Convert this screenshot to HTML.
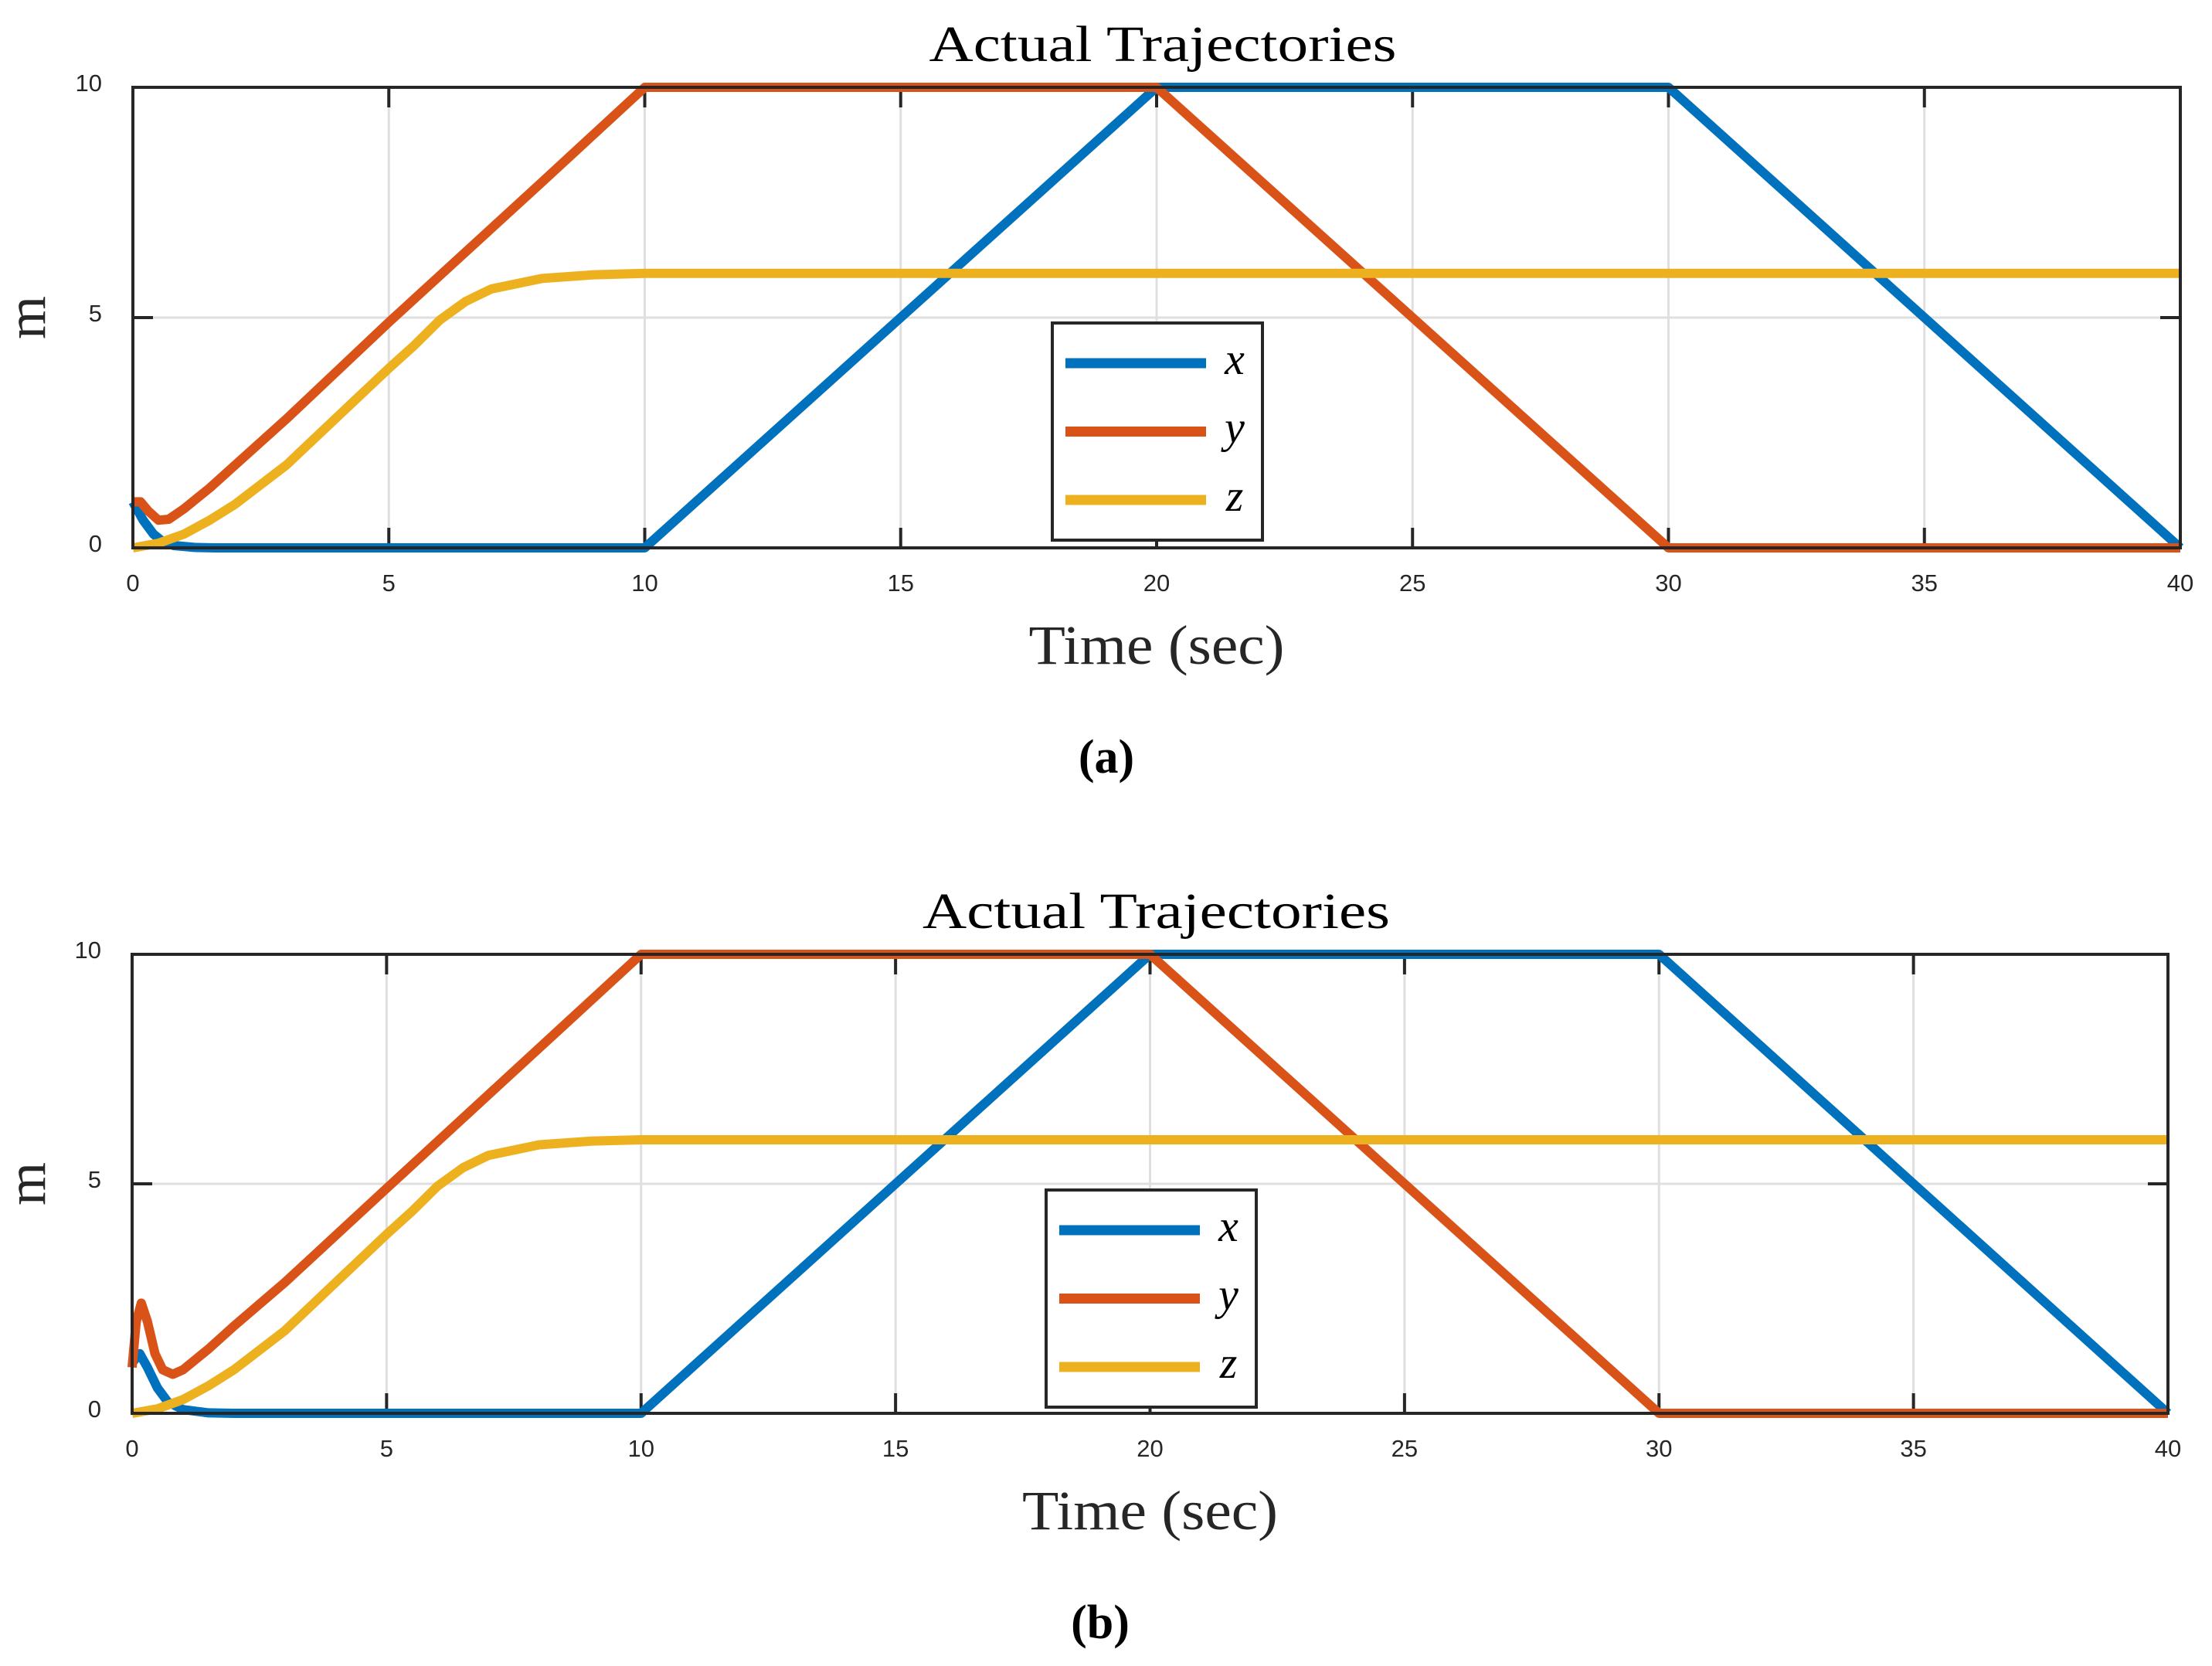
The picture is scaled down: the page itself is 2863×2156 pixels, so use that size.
<!DOCTYPE html>
<html><head><meta charset="utf-8"><style>
html,body{margin:0;padding:0;background:#fff;}
svg{display:block;}
</style></head><body>
<svg id="fig" width="2863" height="2156" viewBox="0 0 2863 2156" xmlns="http://www.w3.org/2000/svg">
<rect width="2863" height="2156" fill="#fff"/>
</svg>
<script>
const xTicks=[0,5,10,15,20,25,30,35,40];
const yTicks=[0,5,10];
const seriesNames=["x","y","z"];
const seriesColors=["#0072BD","#D95319","#EDB120"];
// panel (a)
const aXt=[0,0.2,0.4,0.6,0.8,1.2,1.6,10,20,30,40];
const aXv=[1.0,0.6,0.3,0.12,0.05,0.01,0,0,10,10,0];
const aYt=[0,0.15,0.3,0.5,0.7,1,1.5,2,3,5,8,10,20,30,40];
const aYv=[1.0,1.0,0.8,0.6,0.62,0.85,1.3,1.8,2.8,4.9,7.95,10,10,0,0];
const aZt=[0,0.5,1,1.5,2,3,4,5,5.5,6,6.5,7,8,9,10,40];
const aZv=[0,0.1,0.3,0.6,0.95,1.8,2.85,3.9,4.4,4.95,5.35,5.62,5.85,5.93,5.96,5.96];
// panel (b)
const bXt=[0,0.15,0.3,0.5,0.7,1,1.5,2,10,20,30,40];
const bXv=[1.1,1.3,1.0,0.55,0.25,0.08,0.01,0,0,10,10,0];
const bYt=[0,0.08,0.18,0.3,0.45,0.6,0.8,1,1.5,2,3,5,10,20,30,40];
const bYv=[1.0,2.0,2.4,2.0,1.3,0.95,0.85,0.95,1.4,1.9,2.85,4.9,10,10,0,0];
const bZt=aZt;
const bZv=aZv;

const NS="http://www.w3.org/2000/svg";
const svg=document.getElementById('fig');
function mk(tag,attrs,parent){const e=document.createElementNS(NS,tag);for(const k in attrs)e.setAttribute(k,attrs[k]);(parent||svg).appendChild(e);return e;}

function panel(P,key){
  const g=mk('g',{});
  
  
  const sx=t=>P.l+(t-0)/40*(P.r-P.l);
  const sy=v=>P.b-(v-0)/10*(P.b-P.t);
  // grid
  xTicks.forEach(t=>{const ln=mk('line',{x1:sx(t),x2:sx(t),y1:P.t,y2:P.b,stroke:'#dfdfdf','stroke-width':3},g);
    
    });
  yTicks.forEach(v=>{const ln=mk('line',{x1:P.l,x2:P.r,y1:sy(v),y2:sy(v),stroke:'#dfdfdf','stroke-width':3},g);
    
    });
  // ticks
  xTicks.forEach(t=>{
    mk('line',{x1:sx(t),x2:sx(t),y1:P.t,y2:P.t+26,stroke:'#262626','stroke-width':4},g);
    mk('line',{x1:sx(t),x2:sx(t),y1:P.b,y2:P.b-26,stroke:'#262626','stroke-width':4},g);
    const tx=mk('text',{x:sx(t),y:P.b+56,'text-anchor':'middle','font-family':'Liberation Sans, sans-serif','font-size':31,fill:'#262626'},g);
    tx.textContent=t;
    
    
  });
  yTicks.forEach(v=>{
    mk('line',{x1:P.l,x2:P.l+26,y1:sy(v),y2:sy(v),stroke:'#262626','stroke-width':4},g);
    mk('line',{x1:P.r,x2:P.r-26,y1:sy(v),y2:sy(v),stroke:'#262626','stroke-width':4},g);
    const tx=mk('text',{x:P.l-40,y:sy(v)+5,'text-anchor':'end','font-family':'Liberation Sans, sans-serif','font-size':31,fill:'#262626'},g);
    tx.textContent=v;
    
    
  });
  // series
  P.data.forEach((d,i)=>{
    const pts=d[0].map((t,j)=>sx(t).toFixed(1)+','+sy(d[1][j]).toFixed(1)).join(' ');
    const pl=mk('polyline',{points:pts,fill:'none',stroke:seriesColors[i],'stroke-width':12,'stroke-linejoin':'round','stroke-linecap':'butt'},g);
    
    
  });
  // axes box
  const bx=mk('rect',{x:P.l,y:P.t,width:P.r-P.l,height:P.b-P.t,fill:'none',stroke:'#262626','stroke-width':4},g);
  
  
  // title
  const ti=mk('text',{x:(P.l+P.r)/2+8,y:P.t-34,'text-anchor':'middle','font-family':'Liberation Serif, serif','font-size':66,fill:'#000',textLength:605,lengthAdjust:'spacingAndGlyphs'},g);
  ti.textContent='Actual Trajectories';
  
  
  // y label
  const yl=mk('text',{x:0,y:0,'text-anchor':'middle','font-family':'Liberation Serif, serif','font-size':72,fill:'#262626',transform:'translate(58,'+((P.t+P.b)/2)+') rotate(-90)'},g);
  yl.textContent='m';
  
  
  // x label
  const xl=mk('text',{x:(P.l+P.r)/2,y:P.b+150,'text-anchor':'middle','font-family':'Liberation Serif, serif','font-size':72,fill:'#262626',textLength:331,lengthAdjust:'spacingAndGlyphs'},g);
  xl.textContent='Time (sec)';
  
  
  // caption
  const cp=mk('text',{x:P.capX,y:P.b+291,'text-anchor':'middle','font-family':'Liberation Serif, serif','font-size':62,'font-weight':'bold',fill:'#000'},g);
  cp.textContent='('+key+')';
  
  
  // legend
  const L=P.leg;
  const lg=mk('g',{},g);
  
  
  mk('rect',{x:L.x,y:L.y,width:272,height:281,fill:'#fff',stroke:'#262626','stroke-width':4},lg);
  seriesNames.forEach((n,i)=>{
    const yy=L.y+52+i*88.5;
    const ll=mk('line',{x1:L.x+17,x2:L.x+199,y1:yy,y2:yy,stroke:seriesColors[i],'stroke-width':13},lg);
    
    
    const lt=mk('text',{x:L.x+236,y:yy+14,'text-anchor':'middle','font-family':'Liberation Serif, serif','font-style':'italic','font-size':58,fill:'#000'},lg);
    lt.textContent=n;
    
    
  });
}
panel({l:172,r:2822,t:113,b:709,capX:1432,leg:{x:1362,y:418},data:[[aXt,aXv],[aYt,aYv],[aZt,aZv]]},'a');
panel({l:171,r:2806,t:1235,b:1829,capX:1424,leg:{x:1354,y:1540},data:[[bXt,bXv],[bYt,bYv],[bZt,bZv]]},'b');
</script>
</body></html>
